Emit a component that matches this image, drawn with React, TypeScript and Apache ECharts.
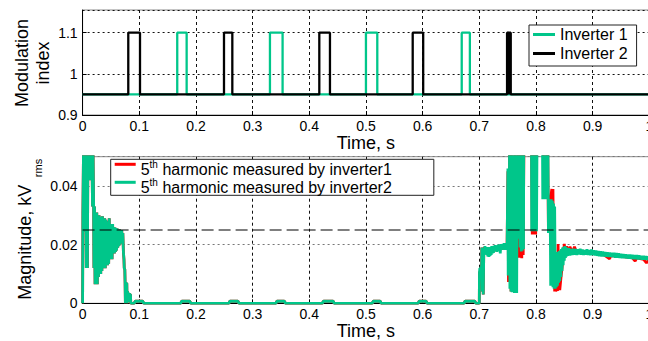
import React, { useEffect, useRef } from 'react';
import * as echarts from 'echarts';

const FONT = '"Liberation Sans", Arial, Helvetica, sans-serif';
const GREEN = '#00c68a';
const RED = '#ff0000';
const BLACK = '#000000';

// ---------- Top plot: modulation index (time s, index) ----------
const inverter1Switching: [number, number][] = [
  [0, 0.95], [0.167, 1.1], [0.1836, 0.95], [0.3306, 1.1], [0.3529, 0.95],
  [0.5, 1.1], [0.52, 0.95], [0.669, 1.1], [0.6834, 0.95], [1, 0.95],
];
const inverter2Switching: [number, number][] = [
  [0, 0.95], [0.0806, 1.1], [0.1013, 0.95], [0.2495, 1.1], [0.2642, 0.95],
  [0.4177, 1.1], [0.4365, 0.95], [0.5825, 1.1], [0.601, 0.95],
  [0.749, 1.1], [0.7505, 0.95], [0.751, 1.1], [0.7525, 0.95], [0.753, 1.1], [0.7555, 0.95],
  [1, 0.95],
];

// ---------- Bottom plot: 5th harmonic magnitude (time s, kV rms) ----------
// shared start-up part (both inverters overlap exactly here)
const harmonicStartup: [number, number][] = [
  [0, 0], [0.0005, 0.031], [0.0015, 0.031], [0.002, 0.06], [0.004, 0.06], [0.0045, 0.0245],
  [0.005, 0.06], [0.006, 0.06], [0.0065, 0.012], [0.0075, 0.06], [0.0085, 0.012], [0.0095, 0.06],
  [0.011, 0.06], [0.012, 0.042], [0.013, 0.06], [0.016, 0.06], [0.0175, 0.033], [0.018, 0.06],
  [0.0195, 0.032], [0.02, 0.012], [0.021, 0.033], [0.022, 0.0065], [0.023, 0.03], [0.024, 0.007],
  [0.025, 0.031], [0.026, 0.0065], [0.027, 0.03], [0.028, 0.009], [0.029, 0.03], [0.03, 0.011],
  [0.031, 0.0295], [0.032, 0.01], [0.033, 0.029], [0.034, 0.011], [0.035, 0.0297], [0.036, 0.012],
  [0.037, 0.028], [0.038, 0.013], [0.039, 0.029], [0.04, 0.012], [0.041, 0.0285], [0.042, 0.014],
  [0.043, 0.027], [0.044, 0.013], [0.045, 0.028], [0.046, 0.0135], [0.047, 0.029], [0.048, 0.015],
  [0.049, 0.027], [0.05, 0.016], [0.051, 0.0265], [0.052, 0.015], [0.053, 0.027], [0.054, 0.017],
  [0.055, 0.026], [0.056, 0.017], [0.057, 0.0258], [0.058, 0.0175], [0.059, 0.0257], [0.06, 0.018],
  [0.061, 0.0255], [0.062, 0.019], [0.063, 0.0252], [0.064, 0.0195], [0.065, 0.0252], [0.066, 0.02],
  [0.067, 0.025], [0.068, 0.0205], [0.069, 0.025], [0.07, 0.0205], [0.071, 0.024], [0.072, 0.0175],
  [0.073, 0.015], [0.0735, 0.012], [0.0745, 0.0115], [0.075, 0.007], [0.0755, 0], [0.0765, 0.0068],
  [0.078, 0.0068], [0.0785, 0], [0.079, 0.004], [0.081, 0.003], [0.0815, 0.0005], [0.083, 0.003],
  [0.0845, 0.003], [0.085, 0],
  [0.091, 0], [0.093, 0.0007], [0.106, 0.0007], [0.108, 0],
  [0.173, 0], [0.175, 0.0007], [0.189, 0.0007], [0.191, 0],
  [0.258, 0], [0.26, 0.0007], [0.274, 0.0007], [0.276, 0],
  [0.341, 0], [0.343, 0.0007], [0.356, 0.0007], [0.358, 0],
  [0.423, 0], [0.425, 0.0007], [0.442, 0.0007], [0.444, 0],
  [0.511, 0], [0.513, 0.0007], [0.525, 0.0007], [0.527, 0],
  [0.592, 0], [0.594, 0.0007], [0.606, 0.0007], [0.608, 0],
  [0.673, 0], [0.675, 0.0007], [0.692, 0.0007], [0.694, 0],
];

const harmonicInv1Late: [number, number][] = [
  [0.7, 0], [0.7003, 0.0105], [0.704, 0.011], [0.7045, 0.019], [0.7055, 0.004], [0.706, 0.0185],
  [0.707, 0.003], [0.708, 0.019], [0.72, 0.0178], [0.735, 0.0185], [0.749, 0.019], [0.7505, 0.045],
  [0.7515, 0.0073], [0.7525, 0.0105], [0.753, 0.0075], [0.7535, 0.06], [0.755, 0.06], [0.756, 0.004],
  [0.757, 0.06], [0.762, 0.06], [0.763, 0.022], [0.769, 0.06], [0.7705, 0.0155], [0.772, 0.06],
  [0.773, 0.0158], [0.774, 0.06], [0.775, 0.0154], [0.776, 0.06], [0.7775, 0.0165], [0.778, 0.0326],
  [0.779, 0.06], [0.792, 0.06], [0.7935, 0.0235], [0.795, 0.06], [0.7965, 0.0235], [0.798, 0.06],
  [0.7995, 0.0235], [0.801, 0.06], [0.8114, 0.06], [0.816, 0.036], [0.8205, 0.06], [0.822, 0.024],
  [0.826, 0.036], [0.828, 0.039], [0.829, 0.01], [0.83, 0.039], [0.831, 0.0147], [0.832, 0.0172],
  [0.833, 0.004], [0.834, 0.0172], [0.835, 0.004], [0.8365, 0.008], [0.838, 0.0042], [0.839, 0.0202],
  [0.84, 0.008], [0.842, 0.0045], [0.844, 0.0085], [0.846, 0.012], [0.848, 0.016], [0.85, 0.0203],
  [0.852, 0.0165], [0.854, 0.0195], [0.856, 0.017], [0.86, 0.0193], [0.864, 0.0172], [0.868, 0.0193],
  [0.872, 0.0172], [0.88, 0.0178], [0.9, 0.0172], [0.92, 0.0165], [0.93, 0.0152], [0.932, 0.0163],
  [0.95, 0.016], [0.97, 0.0155], [0.975, 0.0144], [0.978, 0.0155], [0.99, 0.015], [0.995, 0.0138],
  [1.0, 0.015],
];

const harmonicInv2Late: [number, number][] = [
  [0.7, 0], [0.7003, 0.0105], [0.701, 0.012], [0.702, 0.0105], [0.703, 0.0125], [0.704, 0.011],
  [0.7045, 0.019], [0.7055, 0.004], [0.706, 0.0185], [0.707, 0.003], [0.708, 0.019], [0.709, 0.0175],
  [0.71, 0.0195], [0.711, 0.0178], [0.712, 0.019], [0.713, 0.0165], [0.714, 0.0192], [0.715, 0.016],
  [0.716, 0.0188], [0.717, 0.0158], [0.718, 0.0192], [0.719, 0.0162], [0.72, 0.019], [0.721, 0.0165],
  [0.722, 0.0195], [0.723, 0.017], [0.724, 0.0192], [0.725, 0.0172], [0.726, 0.0196], [0.727, 0.0178],
  [0.728, 0.0198], [0.729, 0.018], [0.73, 0.0196], [0.731, 0.0175], [0.732, 0.0198], [0.733, 0.018],
  [0.734, 0.02], [0.735, 0.0178], [0.736, 0.0198], [0.737, 0.017], [0.738, 0.0202], [0.739, 0.0182],
  [0.74, 0.02], [0.741, 0.0183], [0.742, 0.0203], [0.743, 0.0185], [0.744, 0.0205], [0.745, 0.0182],
  [0.746, 0.0204], [0.747, 0.0185], [0.748, 0.0205], [0.749, 0.0182], [0.7496, 0.018], [0.7505, 0.046],
  [0.751, 0.0095], [0.752, 0.045], [0.7525, 0.0105], [0.7535, 0.06], [0.754, 0.005], [0.755, 0.06],
  [0.756, 0.004], [0.757, 0.06], [0.758, 0.0038], [0.759, 0.06], [0.76, 0.004], [0.761, 0.06],
  [0.762, 0.0035], [0.763, 0.06], [0.764, 0.022], [0.765, 0.06], [0.766, 0.0035], [0.767, 0.06],
  [0.768, 0.022], [0.769, 0.06], [0.77, 0.0223], [0.771, 0.06], [0.772, 0.019], [0.773, 0.06],
  [0.774, 0.0177], [0.775, 0.06], [0.776, 0.018], [0.777, 0.06], [0.778, 0.0185], [0.7785, 0.06],
  [0.792, 0.06], [0.7925, 0.0246], [0.794, 0.06], [0.795, 0.0246], [0.796, 0.06], [0.797, 0.0246],
  [0.798, 0.06], [0.799, 0.0246], [0.8, 0.06], [0.801, 0.0246], [0.802, 0.06], [0.8114, 0.06],
  [0.812, 0.0355], [0.813, 0.06], [0.814, 0.0355], [0.815, 0.06], [0.816, 0.0355], [0.817, 0.06],
  [0.818, 0.0355], [0.819, 0.06], [0.82, 0.0355], [0.821, 0.06], [0.822, 0.024], [0.823, 0.035],
  [0.824, 0.024], [0.825, 0.0355], [0.826, 0.006], [0.827, 0.0355], [0.828, 0.006], [0.829, 0.035],
  [0.83, 0.0055], [0.831, 0.034], [0.832, 0.005], [0.833, 0.033], [0.834, 0.005], [0.835, 0.0175],
  [0.836, 0.0055], [0.837, 0.017], [0.838, 0.006], [0.839, 0.0175], [0.84, 0.007], [0.841, 0.0178],
  [0.842, 0.0075], [0.843, 0.018], [0.844, 0.009], [0.845, 0.0185], [0.846, 0.011], [0.847, 0.019],
  [0.848, 0.013], [0.849, 0.0192], [0.85, 0.0145], [0.851, 0.0195], [0.852, 0.0155], [0.853, 0.0192],
  [0.854, 0.016], [0.855, 0.0188], [0.856, 0.0162], [0.858, 0.0188], [0.86, 0.0163], [0.862, 0.0185],
  [0.864, 0.0165], [0.866, 0.0186], [0.868, 0.0166], [0.87, 0.0185], [0.872, 0.0165], [0.874, 0.0184],
  [0.876, 0.0167], [0.878, 0.0186], [0.88, 0.0166], [0.882, 0.0183], [0.884, 0.0165], [0.886, 0.0182],
  [0.888, 0.0166], [0.89, 0.0184], [0.892, 0.0165], [0.894, 0.0182], [0.896, 0.0164], [0.898, 0.0183],
  [0.9, 0.0165], [0.902, 0.0181], [0.904, 0.0163], [0.906, 0.018], [0.908, 0.0162], [0.91, 0.0178],
  [0.912, 0.0161], [0.914, 0.0177], [0.916, 0.016], [0.918, 0.0176], [0.92, 0.016], [0.922, 0.0175],
  [0.924, 0.0159], [0.926, 0.0174], [0.928, 0.0158], [0.93, 0.0173], [0.932, 0.0158], [0.934, 0.0172],
  [0.936, 0.0157], [0.938, 0.0172], [0.94, 0.0156], [0.942, 0.0171], [0.944, 0.0156], [0.946, 0.017],
  [0.948, 0.0155], [0.95, 0.0169], [0.952, 0.0154], [0.954, 0.0168], [0.956, 0.0154], [0.958, 0.0167],
  [0.96, 0.0153], [0.962, 0.0166], [0.964, 0.0152], [0.966, 0.0166], [0.968, 0.0152], [0.97, 0.0165],
  [0.972, 0.0151], [0.974, 0.0164], [0.976, 0.0151], [0.978, 0.0164], [0.98, 0.015], [0.982, 0.0163],
  [0.984, 0.015], [0.986, 0.0162], [0.988, 0.0149], [0.99, 0.0162], [0.992, 0.0149], [0.994, 0.0161],
  [0.996, 0.0148], [0.998, 0.016], [1.0, 0.0148],
];

const thresholdLine: [number, number][] = [[0, 0.025], [1, 0.025]];

const topLegendNames = ['Inverter 1', 'Inverter 2'];
const bottomLegendNames = ['5th harmonic measured by inverter1', '5th harmonic measured by inverter2'];

function xAxisBase(gridIndex: number) {
  return {
    type: 'value',
    gridIndex,
    min: 0,
    max: 1,
    interval: 0.1,
    name: 'Time, s',
    nameLocation: 'middle',
    nameGap: 18,
    nameTextStyle: { fontSize: 18, color: BLACK, fontFamily: FONT },
    axisLine: { show: true, onZero: false, lineStyle: { color: BLACK, width: 1 } },
    axisTick: { show: true, inside: true, length: 4, lineStyle: { color: BLACK } },
    axisLabel: { margin: 4, fontSize: 14, color: BLACK, fontFamily: FONT },
    splitLine: { show: true, lineStyle: { type: [3, 3], color: '#111', width: 1 } },
  };
}

export default function App() {
  const ref = useRef<HTMLDivElement>(null);
  useEffect(() => {
    if (!ref.current) return;
    const chart = echarts.init(ref.current, null, { renderer: 'svg' });
    const option: any = {
      animation: false,
      backgroundColor: '#ffffff',
      grid: [
        { left: 82.6, top: 10, right: -1.3, height: 105, show: true, borderColor: '#8a8a8a', borderWidth: 1, containLabel: false, outerBoundsMode: 'none' },
        { left: 82.6, top: 156.7, right: -1.3, height: 146.6, show: true, borderColor: '#8a8a8a', borderWidth: 1, containLabel: false, outerBoundsMode: 'none' },
      ],
      xAxis: [xAxisBase(0), xAxisBase(1)],
      yAxis: [
        {
          type: 'value', gridIndex: 0, min: 0.9, max: 1.155, interval: 0.1,
          axisLine: { show: true, onZero: false, lineStyle: { color: BLACK, width: 1 } },
          axisTick: { show: true, inside: true, length: 4, lineStyle: { color: BLACK } },
          axisLabel: { margin: 5, fontSize: 14, color: BLACK, fontFamily: FONT, showMaxLabel: false },
          splitLine: { show: true, lineStyle: { type: [2, 3], color: '#111', width: 1 } },
        },
        {
          type: 'value', gridIndex: 1, min: 0, max: 0.05, interval: 0.02,
          axisLine: { show: true, onZero: false, lineStyle: { color: BLACK, width: 1 } },
          axisTick: { show: true, inside: true, length: 4, lineStyle: { color: BLACK } },
          axisLabel: { margin: 5, fontSize: 14, color: BLACK, fontFamily: FONT, showMaxLabel: false },
          splitLine: { show: true, lineStyle: { type: [2, 3], color: '#777', width: 1 } },
        },
      ],
      legend: [
        {
          data: topLegendNames,
          orient: 'vertical', left: 529, top: 25,
          icon: 'rect', itemWidth: 22, itemHeight: 3, itemGap: 0,
          padding: [0, 9, 3, 4],
          borderColor: '#222', borderWidth: 1, backgroundColor: '#ffffff',
          textStyle: { fontSize: 16, lineHeight: 19, color: BLACK, fontFamily: FONT },
        },
        {
          data: bottomLegendNames,
          orient: 'vertical', left: 110.7, top: 159.3,
          icon: 'rect', itemWidth: 21, itemHeight: 3, itemGap: 0,
          padding: [0, 42, 0, 4],
          borderColor: '#222', borderWidth: 1, backgroundColor: '#ffffff',
          formatter: (name: string) => '{n|5}{sup|th}{n|' + name.slice(3) + '}',
          textStyle: {
            fontSize: 16, color: BLACK, fontFamily: FONT,
            rich: {
              n: { fontSize: 16, lineHeight: 16, verticalAlign: 'bottom', color: BLACK, fontFamily: FONT },
              sup: { fontSize: 10, lineHeight: 26, verticalAlign: 'middle', color: BLACK, fontFamily: FONT },
            },
          },
        },
      ],
      graphic: [
        {
          type: 'text', x: 32.5, y: 63, rotation: Math.PI / 2, silent: true,
          style: { text: 'Modulation\nindex', fontSize: 18, lineHeight: 21, fontFamily: FONT, fill: BLACK, align: 'center', verticalAlign: 'middle' },
        },
        {
          type: 'text', x: 24.5, y: 242.3, rotation: Math.PI / 2, silent: true,
          style: { text: 'Magnitude, kV', fontSize: 18, fontFamily: FONT, fill: BLACK, align: 'center', verticalAlign: 'middle' },
        },
        {
          type: 'text', x: 37.5, y: 168, rotation: Math.PI / 2, silent: true,
          style: { text: 'rms', fontSize: 11, fontFamily: FONT, fill: BLACK, align: 'center', verticalAlign: 'middle' },
        },
      ],
      series: [
        {
          name: 'Inverter 1', type: 'line', xAxisIndex: 0, yAxisIndex: 0, step: 'end',
          data: inverter1Switching, symbol: 'none', silent: true,
          lineStyle: { color: GREEN, width: 2.3 }, itemStyle: { color: GREEN },
        },
        {
          name: 'Inverter 2', type: 'line', xAxisIndex: 0, yAxisIndex: 0, step: 'end',
          data: inverter2Switching, symbol: 'none', silent: true,
          lineStyle: { color: BLACK, width: 2.3 }, itemStyle: { color: BLACK },
        },
        {
          name: bottomLegendNames[0], type: 'line', xAxisIndex: 1, yAxisIndex: 1,
          data: [...harmonicStartup, ...harmonicInv1Late], symbol: 'none', silent: true,
          lineStyle: { color: RED, width: 2.8 }, itemStyle: { color: RED },
        },
        {
          name: bottomLegendNames[1], type: 'line', xAxisIndex: 1, yAxisIndex: 1,
          data: [...harmonicStartup, ...harmonicInv2Late], symbol: 'none', silent: true,
          lineStyle: { color: GREEN, width: 2.8 }, itemStyle: { color: GREEN },
        },
        {
          name: 'threshold', type: 'line', xAxisIndex: 1, yAxisIndex: 1,
          data: thresholdLine, symbol: 'none', silent: true,
          lineStyle: { color: BLACK, width: 1.2, type: [12, 5] },
        },
      ],
    };
    chart.setOption(option);
    return () => chart.dispose();
  }, []);
  return (
    <div
      ref={ref}
      style={{ position: 'fixed', left: 0, top: 0, width: 648, height: 341, background: '#fff' }}
    />
  );
}
